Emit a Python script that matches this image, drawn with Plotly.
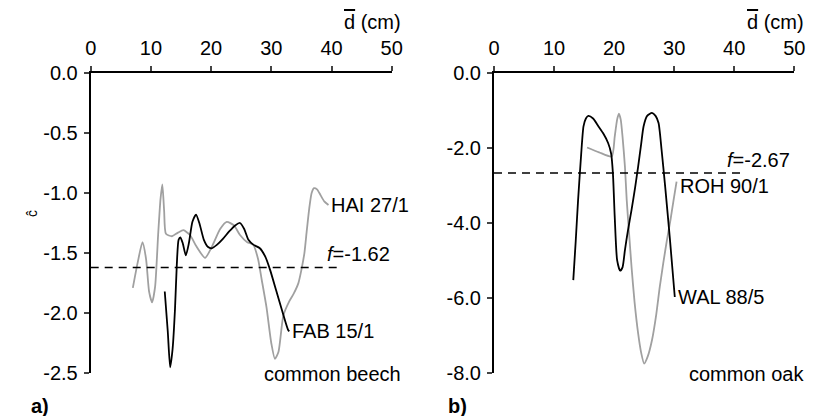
import plotly.graph_objects as go

# Panel a: common beech
hai_d = [7.0, 7.8, 8.6, 9.2, 9.7, 10.2, 10.7, 11.2, 11.6, 11.9, 12.2, 12.5, 13.5, 14.5, 15.4, 16.5, 17.5, 19.0, 20.2, 21.5, 22.6, 23.8, 24.8, 26.0, 27.0, 27.8, 28.4, 29.2, 30.0, 30.6, 31.2, 32.0, 33.0, 33.7, 34.5, 35.0, 35.5, 35.9, 36.3, 36.7, 37.1, 37.6, 38.2, 38.8, 39.5]
hai_c = [-1.79, -1.58, -1.41, -1.55, -1.82, -1.91, -1.78, -1.35, -1.05, -0.93, -1.15, -1.34, -1.36, -1.33, -1.31, -1.35, -1.44, -1.54, -1.44, -1.30, -1.24, -1.27, -1.35, -1.41, -1.43, -1.55, -1.72, -1.95, -2.25, -2.38, -2.32, -2.02, -1.90, -1.84, -1.75, -1.64, -1.50, -1.31, -1.13, -1.00, -0.96, -0.97, -1.02, -1.07, -1.10]

fab_d = [12.3, 12.8, 13.2, 13.6, 14.0, 14.3, 14.6, 14.9, 15.3, 15.8, 16.3, 16.9, 17.5, 18.1, 18.8, 19.5, 20.1, 21.0, 22.0, 23.0, 24.0, 24.8, 25.5, 26.2, 27.0, 28.1, 29.0, 29.8, 30.8, 31.8, 32.8, 33.0]
fab_c = [-1.82, -2.15, -2.45, -2.30, -1.97, -1.60, -1.39, -1.37, -1.42, -1.52, -1.42, -1.24, -1.18, -1.26, -1.39, -1.45, -1.46, -1.43, -1.38, -1.32, -1.27, -1.25, -1.30, -1.39, -1.43, -1.46, -1.53, -1.64, -1.81, -1.98, -2.14, -2.15]

# Panel b: common oak
roh_d = [15.5, 17.5, 19.6, 20.1, 20.5, 20.8, 21.1, 21.4, 21.8, 22.1, 22.5, 22.9, 23.4, 24.0, 24.5, 25.0, 25.6, 26.3, 27.0, 27.6, 28.2, 28.8, 29.4, 29.9, 30.4]
roh_c = [-1.99, -2.12, -2.23, -1.70, -1.25, -1.09, -1.25, -1.70, -2.50, -3.39, -4.30, -5.17, -6.10, -6.94, -7.45, -7.74, -7.55, -7.12, -6.45, -5.70, -5.05, -4.45, -3.90, -3.39, -2.90]

wal_d = [13.2, 13.6, 14.0, 14.5, 14.9, 15.3, 15.7, 16.5, 17.4, 18.2, 19.0, 19.5, 19.8, 20.1, 20.5, 21.0, 21.4, 21.8, 22.3, 22.9, 23.5, 24.0, 24.5, 24.9, 25.5, 26.3, 26.9, 27.4, 27.9, 28.5, 29.3, 30.1]
wal_c = [-5.52, -4.50, -3.39, -2.20, -1.43, -1.22, -1.15, -1.22, -1.43, -1.62, -1.87, -2.15, -2.68, -3.83, -4.99, -5.27, -5.18, -4.72, -4.20, -3.65, -3.05, -2.50, -1.90, -1.43, -1.15, -1.07, -1.15, -1.34, -2.05, -3.03, -4.45, -5.97]

f_beech = -1.62
f_oak = -2.67
f_end = [0, 41]

x_ticks = [0, 10, 20, 30, 40, 50]
ya_ticks = [0.0, -0.5, -1.0, -1.5, -2.0, -2.5]
ya_text = ["0.0", "-0.5", "-1.0", "-1.5", "-2.0", "-2.5"]
yb_ticks = [0.0, -2.0, -4.0, -6.0, -8.0]
yb_text = ["0.0", "-2.0", "-4.0", "-6.0", "-8.0"]

GRAY = "rgb(160,160,160)"
FONT = "Liberation Sans, Arial, sans-serif"
FS = 20

# page body has an 8px margin; figure is sized to fit the window
OFF = 8
W, H = 818 - OFF, 416 - OFF


def xp(px):
    return (px - OFF) / W


def yp(py):
    return 1 - (py - OFF) / H


fig = go.Figure()
fig.add_trace(go.Scatter(x=hai_d, y=hai_c, mode="lines", line=dict(color=GRAY, width=1.8, shape="spline", smoothing=0.6), xaxis="x", yaxis="y", showlegend=False))
fig.add_trace(go.Scatter(x=fab_d, y=fab_c, mode="lines", line=dict(color="black", width=1.8, shape="spline", smoothing=0.6), xaxis="x", yaxis="y", showlegend=False))
fig.add_trace(go.Scatter(x=f_end, y=[f_beech, f_beech], mode="lines", line=dict(color="black", width=1.6, dash="8px,6px"), xaxis="x", yaxis="y", showlegend=False))

fig.add_trace(go.Scatter(x=roh_d, y=roh_c, mode="lines", line=dict(color=GRAY, width=1.8, shape="spline", smoothing=0.6), xaxis="x2", yaxis="y2", showlegend=False))
fig.add_trace(go.Scatter(x=wal_d, y=wal_c, mode="lines", line=dict(color="black", width=1.8, shape="spline", smoothing=0.6), xaxis="x2", yaxis="y2", showlegend=False))
fig.add_trace(go.Scatter(x=f_end, y=[f_oak, f_oak], mode="lines", line=dict(color="black", width=1.6, dash="8px,6px"), xaxis="x2", yaxis="y2", showlegend=False))

ydom = [yp(373.3), yp(72.7)]
common_x = dict(range=[0, 50], side="top", tickvals=x_ticks, ticks="outside", ticklen=5, tickwidth=1.5,
                showline=True, linewidth=2, linecolor="black", showgrid=False, zeroline=False, automargin=False,
                tickfont=dict(size=FS, color="black"), ticklabelstandoff=3)
common_y = dict(ticks="outside", ticklen=5, tickwidth=1.5, showline=True, linewidth=2, linecolor="black",
                showgrid=False, zeroline=False, automargin=False, tickfont=dict(size=FS, color="black"),
                ticklabelstandoff=2)

fig.update_layout(
    template="none",
    width=W, height=H,
    margin=dict(l=0, r=0, t=0, b=0),
    paper_bgcolor="white", plot_bgcolor="white",
    font=dict(family=FONT, color="black", size=FS),
    xaxis=dict(domain=[xp(90.7), xp(391.7)], anchor="y", **common_x),
    yaxis=dict(domain=ydom, anchor="x", range=[-2.5, 0], tickvals=ya_ticks, ticktext=ya_text, **common_y),
    xaxis2=dict(domain=[xp(494), xp(794.3)], anchor="y2", **common_x),
    yaxis2=dict(domain=ydom, anchor="x2", range=[-8, 0], tickvals=yb_ticks, ticktext=yb_text, **common_y),
)

dtitle = "<span style='text-decoration:overline'>d</span> (cm)"
ann = [
    dict(x=xp(403), y=yp(22), xref="paper", yref="paper", text=dtitle, xanchor="right", yanchor="middle"),
    dict(x=xp(806), y=yp(22), xref="paper", yref="paper", text=dtitle, xanchor="right", yanchor="middle"),
    dict(x=39.5, y=-1.10, xref="x", yref="y", text="HAI 27/1", xanchor="left", yanchor="middle", xshift=1),
    dict(x=33.0, y=-2.15, xref="x", yref="y", text="FAB 15/1", xanchor="left", yanchor="middle", xshift=1),
    dict(x=38.9, y=f_beech, xref="x", yref="y", text="<i>f</i>=-1.62", xanchor="left", yanchor="bottom", yshift=0),
    dict(x=xp(403), y=yp(374), xref="paper", yref="paper", text="common beech", xanchor="right", yanchor="middle"),
    dict(x=30.4, y=-2.90, xref="x2", yref="y2", text="ROH 90/1", xanchor="left", yanchor="middle", xshift=1, yshift=-4),
    dict(x=30.1, y=-5.97, xref="x2", yref="y2", text="WAL 88/5", xanchor="left", yanchor="middle", xshift=1),
    dict(x=38.5, y=f_oak, xref="x2", yref="y2", text="<i>f</i>=-2.67", xanchor="left", yanchor="bottom", yshift=0),
    dict(x=xp(806), y=yp(374), xref="paper", yref="paper", text="common oak", xanchor="right", yanchor="middle"),
    dict(x=xp(22), y=yp(214), xref="paper", yref="paper", text="\u0109", textangle=-90, font=dict(size=14)),
    dict(x=xp(29), y=yp(406), xref="paper", yref="paper", text="<b>a)</b>", xanchor="left", yanchor="middle"),
    dict(x=xp(446), y=yp(406), xref="paper", yref="paper", text="<b>b)</b>", xanchor="left", yanchor="middle"),
]
for a in ann:
    a["showarrow"] = False
fig.update_layout(annotations=ann)

fig.write_html("out.html")
